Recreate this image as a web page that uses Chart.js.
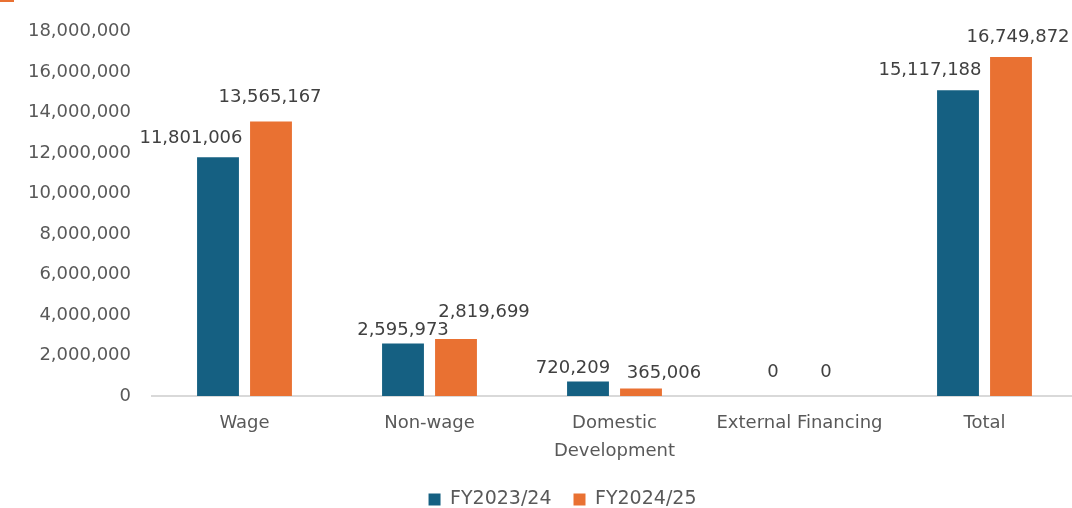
<html><head>
<title>Budget by Item</title>
<script src="https://cdn.jsdelivr.net/npm/chart.js"></script>
<style>
  body {
    margin: 0;
    background-color: white;
    overflow: hidden;
  }
  .wrap {
    position: relative;
    width: 1080px;
    height: 508px;
  }
  .title-bit {
    position: absolute;
    left: 0;
    top: 0;
    width: 14px;
    height: 2px;
    background-color: #E97132;
  }
</style>
</head>
<body>
<div class="wrap">
  <div class="title-bit"></div>
  <canvas id="budgetChart"></canvas>
</div>

<script>
const categories = ['Wage', 'Non-wage', ['Domestic', 'Development'], 'External Financing', 'Total'];
const fy2324 = [11801006, 2595973, 720209, 0, 15117188];
const fy2425 = [13565167, 2819699, 365006, 0, 16749872];
const yTicks = [0, 2000000, 4000000, 6000000, 8000000, 10000000, 12000000, 14000000, 16000000, 18000000];

const textColor = '#595959';
const fontFamily = '"DejaVu Sans", sans-serif';

// label nudges like Excel does to keep them from overlapping (px)
const labelNudge = [
  { dx: [-27, 0, -15, 0, -28], dy: [19, 13, 13, 24, 20] },
  { dx: [-1, 28, 23, 0, 7], dy: [24, 27, 15, 24, 20] }
];

const barLabels = {
  id: 'barLabels',
  afterLayout(chart) {
    // excel puts the legend a bit right of the canvas centre
    chart.legend.left += 24;
    chart.legend.right += 24;
  },
  afterDatasetsDraw(chart) {
    const ctx = chart.ctx;
    ctx.save();
    ctx.font = '18px ' + fontFamily;
    ctx.fillStyle = '#404040';
    ctx.textAlign = 'center';
    ctx.textBaseline = 'middle';
    chart.data.datasets.forEach((ds, i) => {
      chart.getDatasetMeta(i).data.forEach((bar, j) => {
        const n = labelNudge[i];
        ctx.fillText(ds.data[j].toLocaleString('en-US'), bar.x + n.dx[j], bar.y - n.dy[j]);
      });
    });
    ctx.restore();
  }
};

new Chart(document.getElementById('budgetChart'), {
  type: 'bar',
  data: {
    labels: categories,
    datasets: [
      { label: 'FY2023/24', data: fy2324, backgroundColor: '#156082' },
      { label: 'FY2024/25', data: fy2425, backgroundColor: '#E97132' }
    ]
  },
  options: {
    responsive: true,
    maintainAspectRatio: false,
    animation: false,
    categoryPercentage: 0.573,
    barPercentage: 0.79,
    layout: {
      padding: { top: 27, right: 3, left: 0, bottom: -11 }
    },
    plugins: {
      legend: {
        position: 'bottom',
        labels: {
          boxWidth: 12,
          boxHeight: 12,
          padding: 22,
          color: textColor,
          font: { family: fontFamily, size: 19 }
        }
      },
      tooltip: { enabled: false }
    },
    scales: {
      x: {
        grid: { display: false },
        border: { display: true, color: '#d9d9d9', width: 2 },
        ticks: {
          color: textColor,
          padding: 5,
          maxRotation: 0,
          autoSkip: false,
          font: { family: fontFamily, size: 18, lineHeight: 1.55 }
        },
        afterFit(scale) { scale.height = 72; }
      },
      y: {
        min: 0,
        max: 18000000,
        grid: { display: false, drawTicks: false },
        border: { display: false },
        afterBuildTicks(scale) { scale.ticks = yTicks.map(v => ({ value: v })); },
        afterFit(scale) { scale.width = 152; },
        ticks: {
          color: textColor,
          padding: 21,
          font: { family: fontFamily, size: 18 },
          callback: v => v.toLocaleString('en-US')
        }
      }
    }
  },
  plugins: [barLabels]
});
</script>
</body></html>
